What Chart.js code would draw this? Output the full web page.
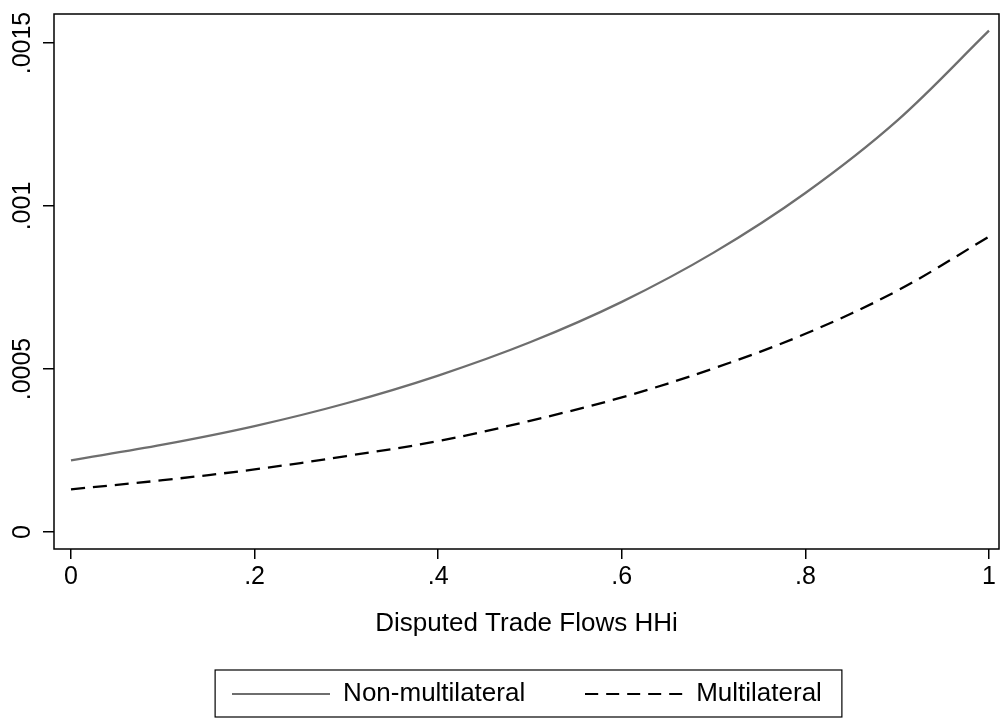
<!DOCTYPE html>
<html>
<head>
<meta charset="utf-8">
<script src="https://cdn.jsdelivr.net/npm/chart.js@4"></script>
<style>
html,body{margin:0;padding:0;background:#fff;}
canvas{display:block;}
</style>
</head>
<body>
<canvas id="c" width="1000" height="719"></canvas>
<script>
// ---- data ----
const hhi = [0, 0.1, 0.2, 0.3, 0.4, 0.5, 0.6, 0.7, 0.8, 0.9, 1.0];
const nonMultilateral = [0.000220, 0.000268, 0.000325, 0.000395, 0.000480, 0.000582, 0.000706, 0.000857, 0.001040, 0.001262, 0.001538];
const multilateral = [0.000131, 0.000159, 0.000192, 0.000233, 0.000279, 0.000341, 0.000413, 0.000502, 0.000608, 0.000740, 0.000906];
const seriesNames = ['Non-multilateral', 'Multilateral'];
const xTickValues = [0, 0.2, 0.4, 0.6, 0.8, 1];
const xTickLabels = ['0', '.2', '.4', '.6', '.8', '1'];
const yTickValues = [0, 0.0005, 0.001, 0.0015];
const yTickLabels = ['0', '.0005', '.001', '.0015'];
const xTitle = 'Disputed Trade Flows HHi';

Chart.defaults.font.family = '"Liberation Sans", Arial, Helvetica, sans-serif';
Chart.defaults.color = '#000';

const toPoints = arr => hhi.map((x, i) => ({x: x, y: arr[i]}));

// legend key image: a horizontal line sample with the dataset's stroke style
function keyImage(color, width, dash) {
  const c = document.createElement('canvas');
  c.width = 98; c.height = 6;
  const g = c.getContext('2d');
  g.strokeStyle = color;
  g.lineWidth = width;
  g.setLineDash(dash || []);
  g.beginPath();
  g.moveTo(0, 3);
  g.lineTo(98, 3);
  g.stroke();
  return c;
}

const framePlugin = {
  id: 'frame',
  afterLayout(chart) {
    const lg = chart.legend;
    if (lg) { lg.left = 54; lg.right = 1000; }
  },
  afterDraw(chart) {
    const ctx = chart.ctx;
    const a = chart.chartArea;
    ctx.save();
    ctx.strokeStyle = '#000';
    ctx.lineWidth = 1.5;
    ctx.setLineDash([]);
    ctx.strokeRect(a.left, a.top, a.right - a.left, a.bottom - a.top);
    const hb = chart.legend && chart.legend.legendHitBoxes;
    if (hb && hb.length) {
      const first = hb[0], last = hb[hb.length - 1];
      const cy = first.top + first.height / 2;
      const l = first.left - 17, r = last.left + last.width + 20;
      ctx.lineWidth = 1.2;
      ctx.strokeRect(l, cy - 24, r - l, 47);
    }
    ctx.restore();
  }
};

new Chart(document.getElementById('c'), {
  type: 'line',
  data: {
    datasets: [
      {
        label: seriesNames[0],
        data: toPoints(nonMultilateral),
        borderColor: '#6e6e6e',
        backgroundColor: 'rgba(0,0,0,0)',
        borderWidth: 2.3,
        pointRadius: 0,
        tension: 0.35,
        fill: false
      },
      {
        label: seriesNames[1],
        data: toPoints(multilateral),
        borderColor: '#000',
        backgroundColor: 'rgba(0,0,0,0)',
        borderWidth: 2.3,
        borderDash: [14, 8],
        pointRadius: 0,
        tension: 0.35,
        fill: false
      }
    ]
  },
  options: {
    responsive: false,
    animation: false,
    devicePixelRatio: 1,
    layout: {padding: {left: 0, right: 1, top: 14, bottom: 2}},
    plugins: {
      tooltip: {enabled: false},
      legend: {
        display: true,
        position: 'bottom',
        align: 'center',
        labels: {
          usePointStyle: true,
          pointStyleWidth: 98,
          boxHeight: 26,
          padding: 60,
          color: '#000',
          font: {size: 26},
          generateLabels(chart) {
            const items = Chart.defaults.plugins.legend.labels.generateLabels(chart);
            items.forEach((it, i) => {
              const ds = chart.data.datasets[it.datasetIndex];
              it.pointStyle = keyImage(ds.borderColor, 2, i === 1 ? [13, 8] : []);
            });
            return items;
          }
        }
      }
    },
    scales: {
      x: {
        type: 'linear',
        min: -0.0185,
        max: 1.0109,
        afterBuildTicks: s => { s.ticks = xTickValues.map(v => ({value: v})); },
        afterFit: s => { s.height = 72; },
        ticks: {
          autoSkip: false,
          maxRotation: 0,
          padding: 3,
          font: {size: 25, lineHeight: 1.2},
          color: '#000',
          callback: (v, i) => xTickLabels[i]
        },
        grid: {display: true, drawOnChartArea: false, drawTicks: true, tickLength: 10, color: '#000', lineWidth: 1.5},
        border: {display: false},
        title: {display: true, text: xTitle, font: {size: 26, lineHeight: 1}, color: '#000', padding: {top: 0, bottom: -16}}
      },
      y: {
        type: 'linear',
        min: -0.0000521,
        max: 0.001589,
        afterBuildTicks: s => { s.ticks = yTickValues.map(v => ({value: v})); },
        afterFit: s => { s.width = 54; },
        ticks: {
          autoSkip: false,
          minRotation: 90,
          maxRotation: 90,
          crossAlign: 'center',
          padding: -11,
          font: {size: 25, lineHeight: 1.2},
          color: '#000',
          callback: (v, i) => yTickLabels[i]
        },
        grid: {display: true, drawOnChartArea: false, drawTicks: true, tickLength: 11, color: '#000', lineWidth: 1.5},
        border: {display: false}
      }
    }
  },
  plugins: [framePlugin]
});
</script>
</body>
</html>
